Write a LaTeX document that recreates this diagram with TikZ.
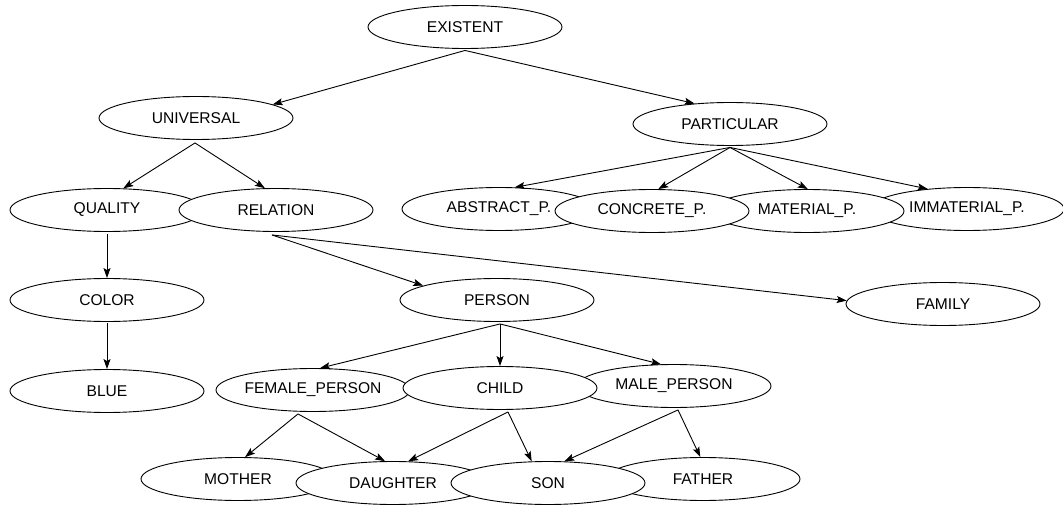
\documentclass[tikz,border=0pt]{standalone}
\usepackage{fontspec}
\setmainfont{Liberation Sans}
\usetikzlibrary{shapes.geometric,arrows.meta}
\tikzset{
  concept/.style={ellipse, draw=black, fill=white, line width=0.9pt,
    minimum width=194pt, minimum height=43pt, inner xsep=-20pt, inner ysep=0pt,
    font=\fontsize{15.6}{18}\selectfont},
  link/.style={draw=black, line width=0.9pt, -{Stealth[length=10pt,width=7pt,inset=2pt]}}
}
\begin{document}
\begin{tikzpicture}[x=1pt,y=-1pt]
\useasboundingbox (0,0) rectangle (1063,505);
% nodes (drawing order sets the overlaps)
\node[concept] (ex)  at (465,27)  {EXISTENT};
\node[concept] (un)  at (196,118) {UNIVERSAL};
\node[concept] (pa)  at (730,124) {PARTICULAR};
\node[concept] (qu)  at (107,210) {QUALITY};
\node[concept] (re)  at (276,210) {RELATION};
\node[concept] (ab)  at (499,209) {ABSTRACT\_P.};
\node[concept] (im)  at (967,209) {IMMATERIAL\_P.};
\node[concept] (ma)  at (807,211) {MATERIAL\_P.};
\node[concept] (co)  at (652,211) {CONCRETE\_P.};
\node[concept] (col) at (107,300) {COLOR};
\node[concept] (pe)  at (497,300) {PERSON};
\node[concept] (fa)  at (943,304) {FAMILY};
\node[concept] (bl)  at (107,391) {BLUE};
\node[concept] (fp)  at (313,390) {FEMALE\_PERSON};
\node[concept] (mp)  at (674,386) {MALE\_PERSON};
\node[concept] (ch)  at (500,388) {CHILD};
\node[concept] (mo)  at (238,479) {MOTHER};
\node[concept] (fat) at (703,479) {FATHER};
\node[concept] (da)  at (393,483) {DAUGHTER};
\node[concept] (so)  at (548,483) {SON};
% connectors
\draw[link] ([yshift=-1.5pt]ex.south) -- (un.10);
\draw[link] ([yshift=-1.5pt]ex.south) -- (pa.150);
\draw[link] ([shift={(-1pt,-3pt)}]un.south) -- (qu.53);
\draw[link] ([shift={(-1pt,-3pt)}]un.south) -- (re.117);
\draw[link] ([yshift=-1.5pt]pa.south) -- (ab.54);
\draw[link] ([yshift=-1.5pt]pa.south) -- (co.74);
\draw[link] ([yshift=-1.5pt]pa.south) -- (ma.88);
\draw[link] ([yshift=-1.5pt]pa.south) -- (im.153);
\draw[link] ([yshift=-2pt]qu.south) -- (col.north);
\draw[link] ([yshift=-1.5pt]col.south) -- (bl.north);
\draw[link] ([shift={(-4pt,-3pt)}]re.south) -- (pe.169);
\draw[link] ([shift={(-4pt,-3pt)}]re.south) -- (fa.178);
\draw[link] ([shift={(3pt,-2pt)}]pe.south) -- (fp.72);
\draw[link] ([shift={(3pt,-2pt)}]pe.south) -- (ch.north);
\draw[link] ([shift={(3pt,-2pt)}]pe.south) -- (mp.121);
\draw[link] ([shift={(-15pt,-2pt)}]fp.south) -- (mo.72);
\draw[link] ([shift={(-15pt,-2pt)}]fp.south) -- (da.110);
\draw[link] ([shift={(8pt,-2pt)}]ch.south) -- (da.55);
\draw[link] ([shift={(8pt,-2pt)}]ch.south) -- (so.127);
\draw[link] ([shift={(4pt,-2pt)}]mp.south) -- (so.53);
\draw[link] ([shift={(4pt,-2pt)}]mp.south) -- (fat.97);
\end{tikzpicture}
\end{document}
